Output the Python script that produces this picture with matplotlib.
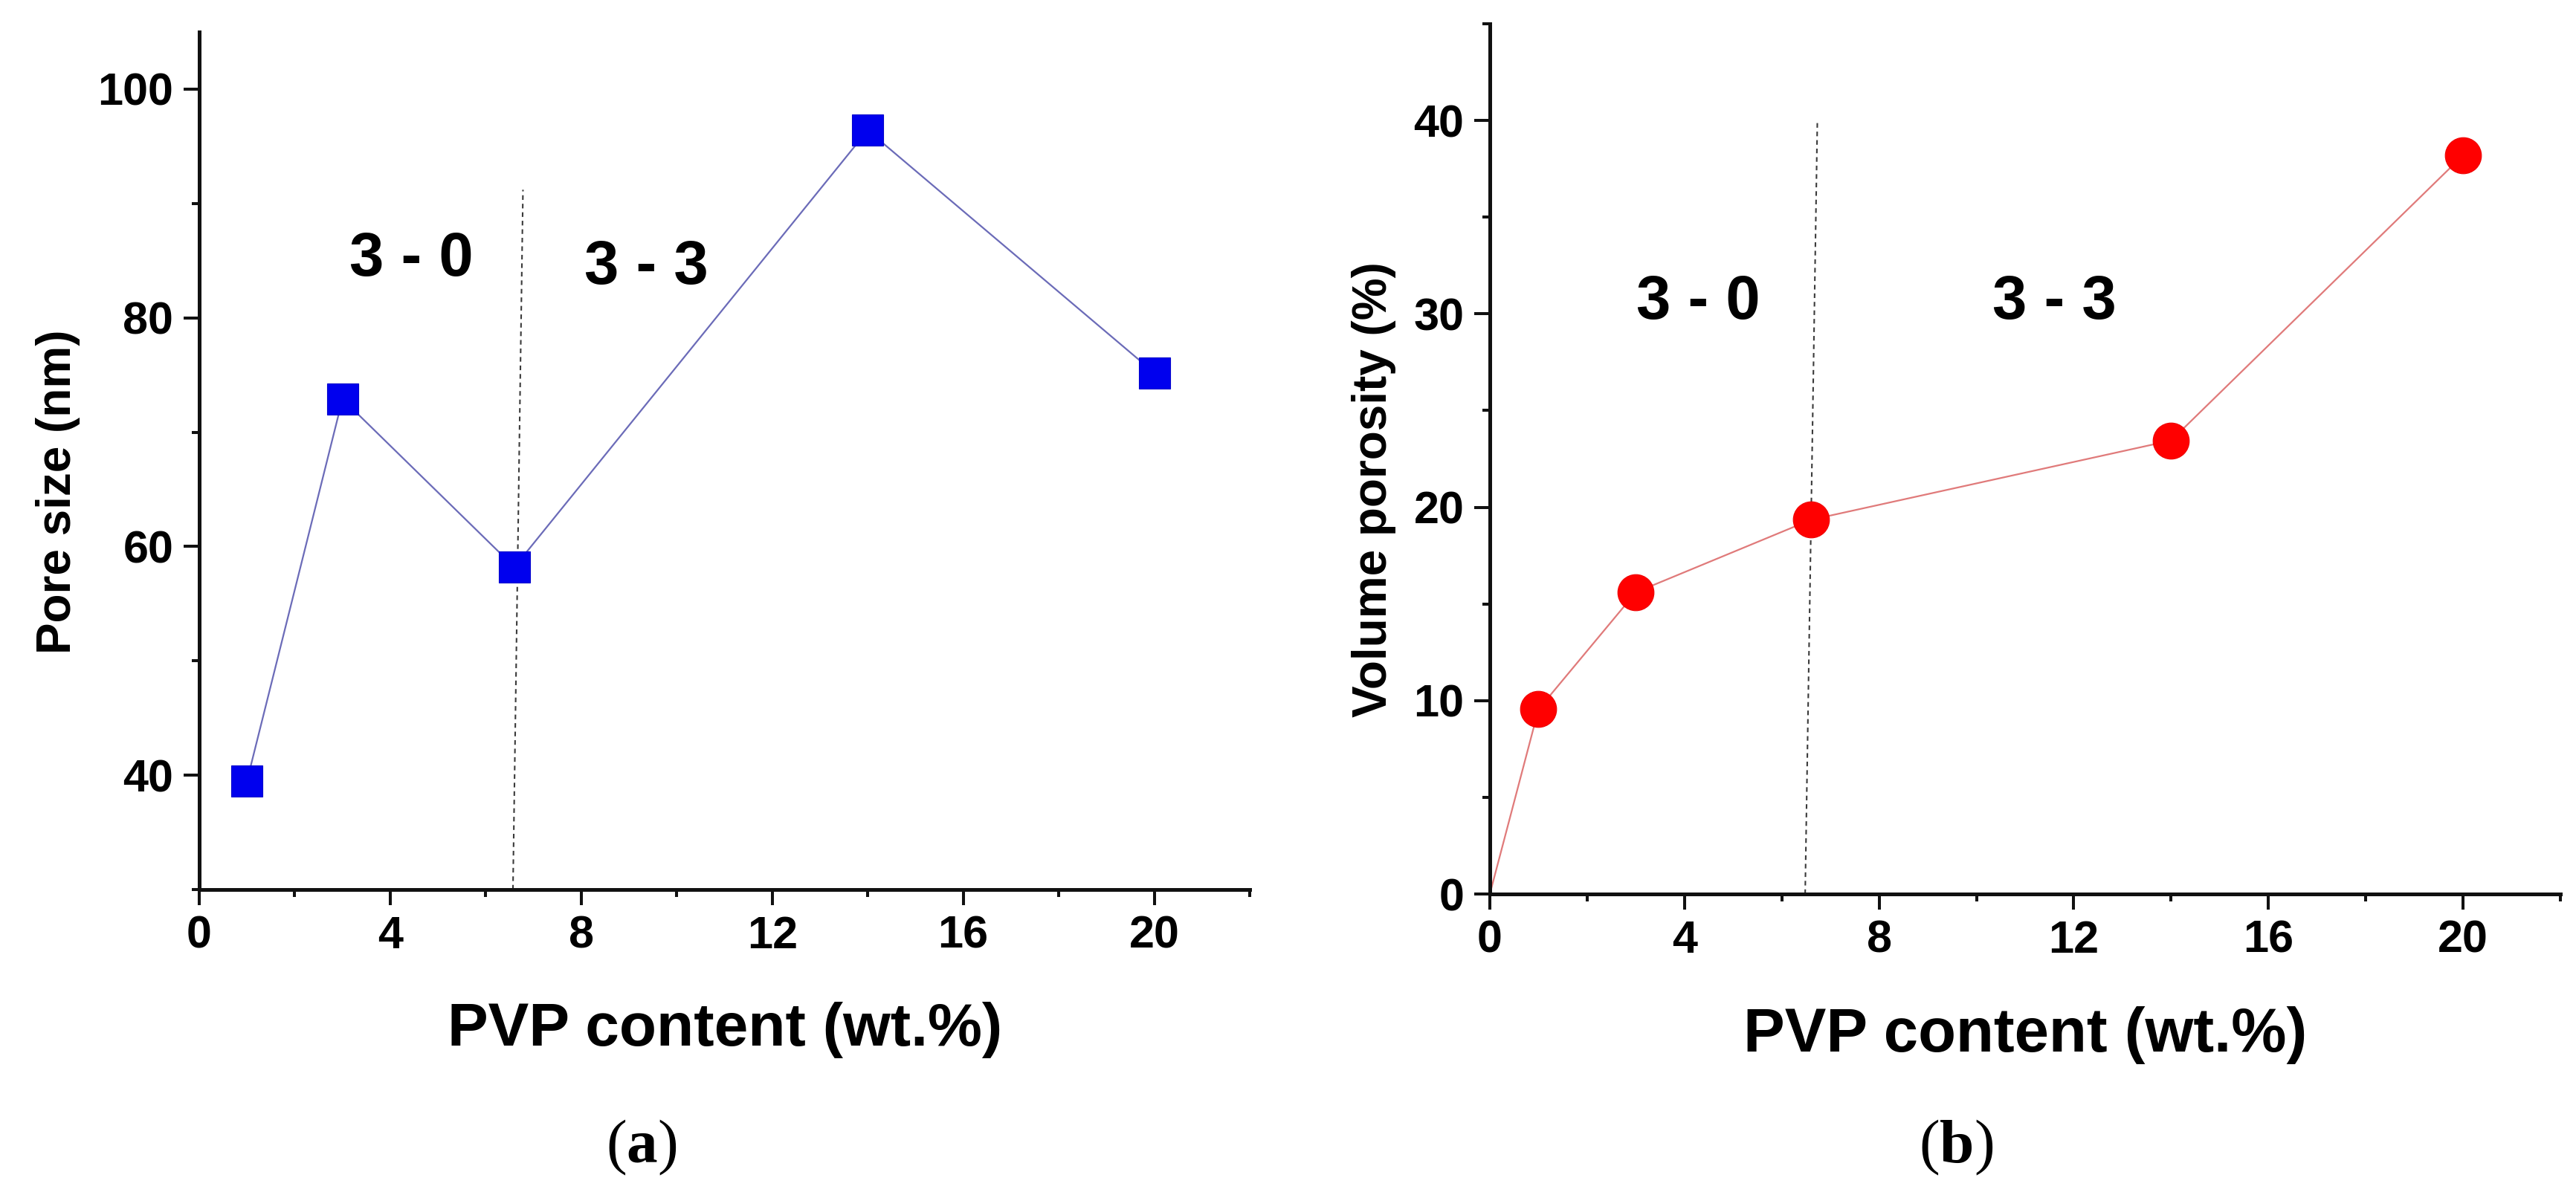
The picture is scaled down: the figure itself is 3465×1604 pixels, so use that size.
import matplotlib
matplotlib.use("Agg")
import matplotlib.pyplot as plt
from matplotlib.ticker import MultipleLocator

plt.rcParams['font.family'] = ['Liberation Sans', 'DejaVu Sans']
plt.rcParams['font.weight'] = 'bold'
plt.rcParams['mathtext.fontset'] = 'custom'
plt.rcParams['mathtext.bf'] = 'Liberation Serif:bold'
plt.rcParams['mathtext.rm'] = 'Liberation Serif'

# ---- data ----
pvp_a = [1, 3, 6.6, 14, 20]
pore_size = [39.5, 72.9, 58.2, 96.4, 75.2]

pvp_b = [0, 1, 3, 6.6, 14, 20]
porosity = [0, 9.55, 15.6, 19.35, 23.45, 38.2]

xticks = [0, 4, 8, 12, 16, 20]
yticks_a = [40, 60, 80, 100]
yticks_b = [0, 10, 20, 30, 40]

region_labels = ["3 - 0", "3 - 3"]
xlabel = "PVP content (wt.%)"
ylabel_a = "Pore size (nm)"
ylabel_b = "Volume porosity (%)"
captions = ["a", "b"]

W, H = 3466, 1604
fig = plt.figure(figsize=(W / 100, H / 100), dpi=100)
fig.patch.set_facecolor('white')

def px_axes(l, r, t, b):
    return [l / W, 1 - b / H, (r - l) / W, (b - t) / H]

ax1 = fig.add_axes(px_axes(268, 1681, 43, 1197))
ax2 = fig.add_axes(px_axes(2004, 3444, 32, 1203))

def style(ax, ymaj, ymin):
    for s in ['top', 'right']:
        ax.spines[s].set_visible(False)
    for s in ['left', 'bottom']:
        ax.spines[s].set_linewidth(3.6)
        ax.spines[s].set_color('#111111')
    ax.xaxis.set_major_locator(MultipleLocator(4))
    ax.xaxis.set_minor_locator(MultipleLocator(2))
    ax.yaxis.set_major_locator(MultipleLocator(ymaj))
    ax.yaxis.set_minor_locator(MultipleLocator(ymin))
    ax.tick_params(which='major', direction='out', length=15, width=2.9,
                   labelsize=44, pad=10, color='#111111')
    ax.tick_params(which='minor', direction='out', length=7.5, width=2.9,
                   color='#111111')
    for lab in ax.get_xticklabels() + ax.get_yticklabels():
        lab.set_fontweight('bold')

# ---- panel a ----
ax1.plot(pvp_a, pore_size, '-', color='#6b6bb8', lw=1.6, zorder=2)
ax1.plot(pvp_a, pore_size, 's', color='#0000ee', markersize=30,
         markeredgecolor='#0000cc', markeredgewidth=0.8, zorder=3)
ax1.plot([6.57, 6.78], [30, 91.2], color='#3a3a3a', lw=1.5,
         dashes=(3, 2.5), zorder=1)
ax1.set_xlim(0, 22)
ax1.set_ylim(30, 105)
ax1.set_xticks(xticks)
ax1.set_yticks(yticks_a)
style(ax1, 20, 10)
ax1.text(4.45, 85.1, region_labels[0], fontsize=60, fontweight='bold',
         ha='center', va='center')
ax1.text(9.37, 84.4, region_labels[1], fontsize=60, fontweight='bold',
         ha='center', va='center')

# ---- panel b ----
ax2.plot(pvp_b, porosity, '-', color='#e07a7a', lw=1.6, zorder=2)
ax2.plot(pvp_b[1:], porosity[1:], 'o', color='#ff0000', markersize=35,
         markeredgecolor='#ee0000', markeredgewidth=0.8, zorder=3)
ax2.plot([6.48, 6.73], [0, 39.9], color='#3a3a3a', lw=1.5,
         dashes=(3, 2.5), zorder=1)
ax2.set_xlim(0, 22)
ax2.set_ylim(0, 45)
ax2.set_xticks(xticks)
ax2.set_yticks(yticks_b)
style(ax2, 10, 5)
ax2.text(4.29, 30.6, region_labels[0], fontsize=60, fontweight='bold',
         ha='center', va='center')
ax2.text(11.6, 30.6, region_labels[1], fontsize=60, fontweight='bold',
         ha='center', va='center')

# ---- axis labels ----
fig.text(975 / W, 1 - 1407 / H, xlabel, fontsize=59, fontweight='bold',
         ha='center', va='baseline')
fig.text(2724 / W, 1 - 1415 / H, xlabel, fontsize=60, fontweight='bold',
         ha='center', va='baseline')
fig.text(78 / W, 1 - 662 / H, ylabel_a, fontsize=46, fontweight='bold',
         rotation=90, ha='center', va='center')
fig.text(1848 / W, 1 - 659 / H, ylabel_b, fontsize=46, fontweight='bold',
         rotation=90, ha='center', va='center')

# ---- panel captions ----
for xc, letter in zip([863, 2631], captions):
    fig.text(xc / W, 1 - 1544 / H, r'($\mathbf{%s}$)' % letter,
             fontsize=60, family='Liberation Serif', fontweight='normal',
             ha='center', va='center')

fig.savefig('out.png', dpi=100, facecolor='white')
